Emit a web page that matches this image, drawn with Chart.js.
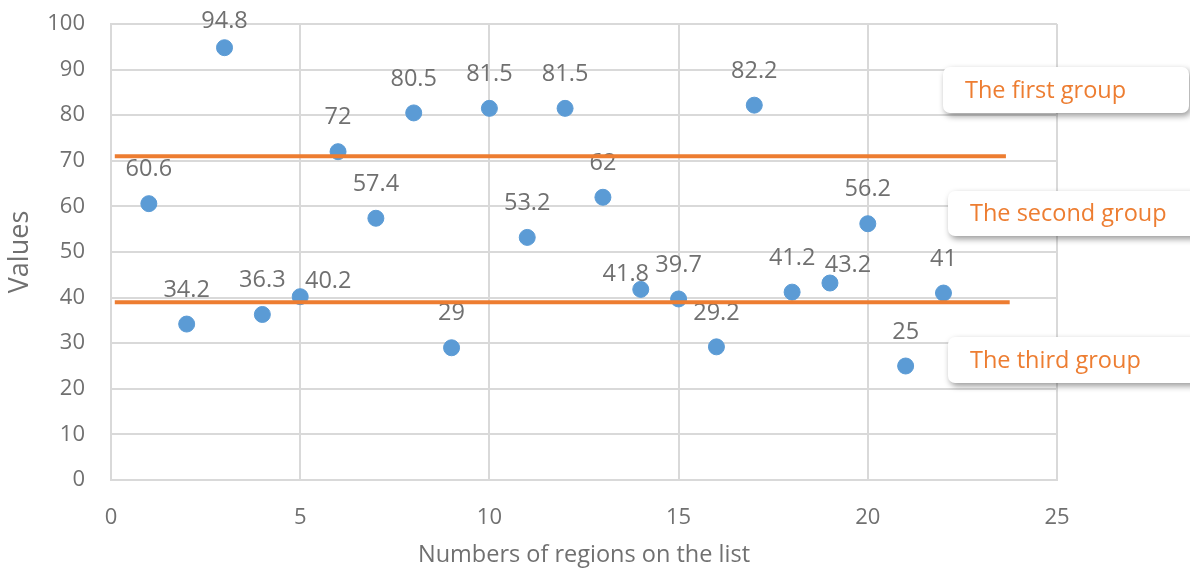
<!DOCTYPE html>
<html>
<head>
<meta charset="utf-8">
<script src="https://cdn.jsdelivr.net/npm/chart.js@4.4.1/dist/chart.umd.min.js"></script>
<style>
  html, body { margin: 0; padding: 0; background: #ffffff; }
  #wrap { width: 1190px; height: 569px; position: relative; }
</style>
</head>
<body>
<div id="wrap"><canvas id="chart" width="1190" height="569"></canvas></div>
<script>
// Region numbers and their values
const regionNumbers = [1, 2, 3, 4, 5, 6, 7, 8, 9, 10, 11, 12, 13, 14, 15, 16, 17, 18, 19, 20, 21, 22];
const regionValues = [60.6, 34.2, 94.8, 36.3, 40.2, 72, 57.4, 80.5, 29, 81.5, 53.2, 81.5, 62, 41.8, 39.7, 29.2, 82.2, 41.2, 43.2, 56.2, 25, 41];

// Group boundaries (horizontal thresholds) and their x extent
const boundaryValues = [71, 39];
const boundaryStartX = [0.1, 0.1];
const boundaryEndX = [23.65, 23.75];

// Group captions
const groupNames = ['The first group', 'The second group', 'The third group'];

// Axis ticks
const xTicks = [0, 5, 10, 15, 20, 25];
const yTicks = [0, 10, 20, 30, 40, 50, 60, 70, 80, 90, 100];

const FONT = '"Open Sans", "DejaVu Sans", sans-serif';
const GREY = '#707070';
const ORANGE = '#ED7D31';
const BLUE = '#5B9BD5';

const pointData = regionNumbers.map((n, i) => ({ x: n, y: regionValues[i] }));

const boundaryDatasets = boundaryValues.map((v, i) => ({
  type: 'line',
  label: 'boundary' + i,
  data: [{ x: boundaryStartX[i], y: v }, { x: boundaryEndX[i], y: v }],
  borderColor: ORANGE,
  borderWidth: 4,
  pointRadius: 0,
  showLine: true,
  fill: false,
  order: 1
}));

// Value labels above each point; a few are nudged to avoid overlaps
const valueLabelPlugin = {
  id: 'valueLabels',
  afterDatasetDraw(chart, args, opts) {
    if (args.index !== 0) return;
    const ctx = chart.ctx;
    const meta = args.meta;
    ctx.save();
    ctx.font = opts.font;
    ctx.fillStyle = opts.color;
    ctx.textAlign = 'center';
    ctx.textBaseline = 'middle';
    meta.data.forEach((pt, i) => {
      const nudge = opts.nudge[i] || [0, -opts.offset];
      ctx.fillText(String(regionValues[i]), pt.x + nudge[0], pt.y + nudge[1]);
    });
    ctx.restore();
  }
};

// Rounded caption boxes with a soft shadow at the right edge
const groupBoxPlugin = {
  id: 'groupBoxes',
  afterDraw(chart, args, opts) {
    const ctx = chart.ctx;
    opts.boxes.forEach((b, i) => {
      ctx.save();
      ctx.shadowColor = 'rgba(0,0,0,0.4)';
      ctx.shadowBlur = 6;
      ctx.shadowOffsetX = 2;
      ctx.shadowOffsetY = 3;
      ctx.fillStyle = '#ffffff';
      ctx.beginPath();
      ctx.roundRect(b.x, b.y, b.w, b.h, 7);
      ctx.fill();
      ctx.restore();
      ctx.save();
      ctx.font = opts.font;
      ctx.fillStyle = ORANGE;
      ctx.textAlign = 'left';
      ctx.textBaseline = 'middle';
      ctx.fillText(groupNames[i], b.tx, b.y + b.h / 2 + 1);
      ctx.restore();
    });
  }
};

new Chart(document.getElementById('chart'), {
  type: 'scatter',
  data: {
    datasets: [
      {
        label: 'Values',
        data: pointData,
        backgroundColor: BLUE,
        borderColor: BLUE,
        pointRadius: 8,
        pointHoverRadius: 8,
        order: 2
      },
      ...boundaryDatasets
    ]
  },
  options: {
    responsive: false,
    animation: false,
    events: [],
    layout: { padding: { left: 0, right: 133, top: 24, bottom: 0 } },
    plugins: {
      legend: { display: false },
      tooltip: { enabled: false },
      valueLabels: {
        font: '23.5px ' + FONT,
        color: GREY,
        offset: 34,
        nudge: { 2: [0, -26], 4: [28, -15], 13: [-15, -15], 18: [18, -18] }
      },
      groupBoxes: {
        font: '23.5px ' + FONT,
        boxes: [
          { x: 943, y: 67, w: 246, h: 46, tx: 965 },
          { x: 948, y: 191, w: 260, h: 45, tx: 970 },
          { x: 948, y: 337, w: 260, h: 46, tx: 970 }
        ]
      }
    },
    scales: {
      x: {
        type: 'linear',
        min: 0,
        max: 25,
        afterBuildTicks(scale) { scale.ticks = xTicks.map(v => ({ value: v })); },
        afterFit(scale) { scale.height = 89; scale.paddingLeft = 0; scale.paddingRight = 0; },
        grid: { color: '#D9D9D9', lineWidth: 2, drawTicks: false },
        border: { color: '#D9D9D9', width: 2 },
        ticks: { color: GREY, font: { family: FONT, size: 22 }, padding: 25, maxRotation: 0 },
        title: { display: true, text: 'Numbers of regions on the list', color: GREY, font: { family: FONT, size: 23.5 }, padding: { top: 6, bottom: 0 } }
      },
      y: {
        type: 'linear',
        min: 0,
        max: 100,
        afterBuildTicks(scale) { scale.ticks = yTicks.map(v => ({ value: v })); },
        afterFit(scale) { scale.width = 111; scale.paddingTop = 0; scale.paddingBottom = 0; },
        grid: { color: '#D9D9D9', lineWidth: 2, drawTicks: false },
        border: { color: '#D9D9D9', width: 2 },
        ticks: { color: GREY, font: { family: FONT, size: 22 }, padding: 26 },
        title: { display: true, text: 'Values', color: GREY, font: { family: FONT, size: 27 }, padding: { top: 4, bottom: 0 } }
      }
    }
  },
  plugins: [valueLabelPlugin, groupBoxPlugin]
});
</script>
</body>
</html>
